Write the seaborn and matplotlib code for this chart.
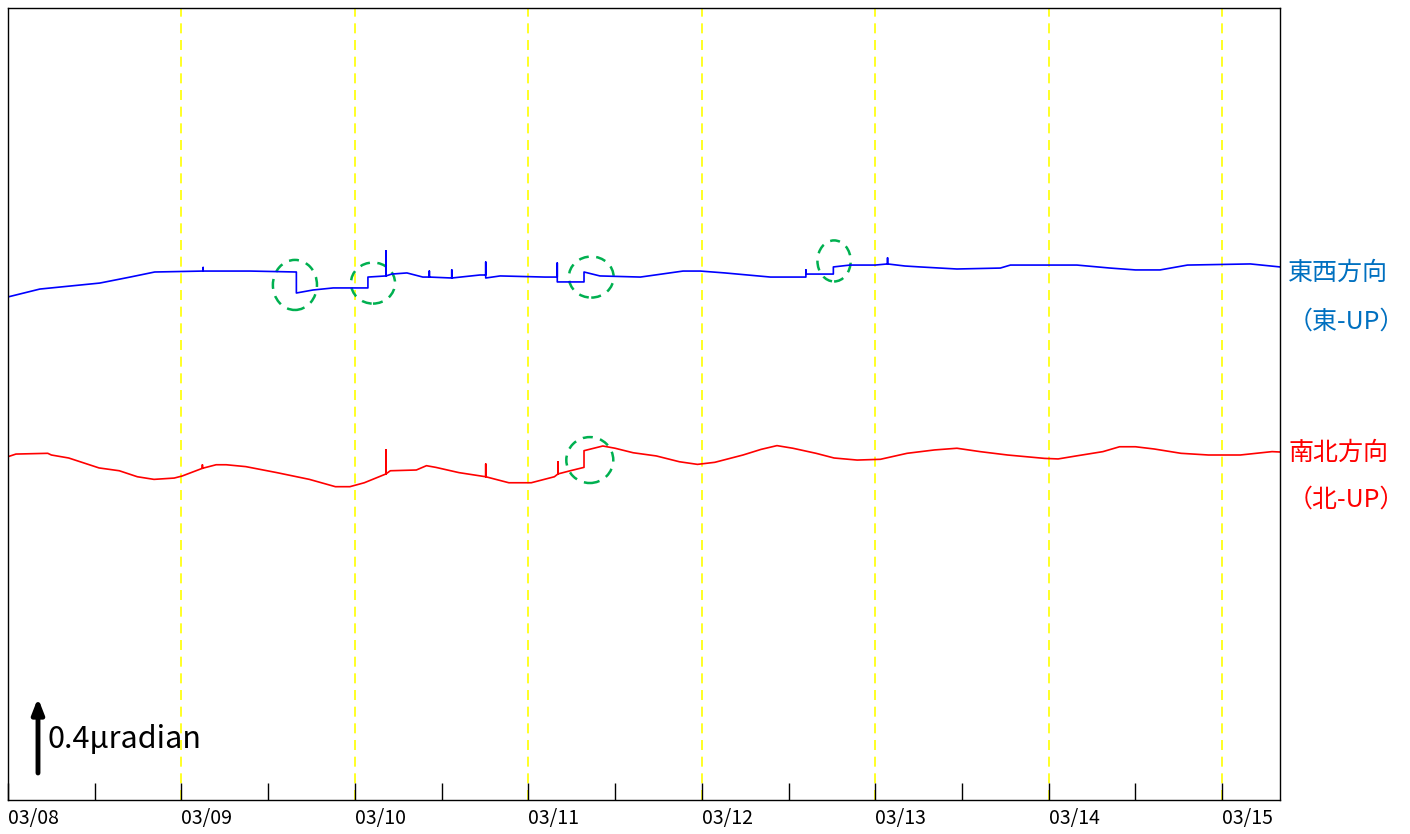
import matplotlib
matplotlib.use("Agg")
import matplotlib.pyplot as plt
import numpy as np
import pandas as pd
import seaborn as sns
from matplotlib.patches import Ellipse

# hours since 03/08 00:00 and tilt in micro-radian (arbitrary zero)
ew_hours = [0, 4.4, 12.7, 16.9, 20.3, 27.0, 27.0, 27.0, 33.5, 39.9, 39.9, 42.2, 45.0,
            49.8, 49.8, 52.3, 52.3, 52.3, 53.1, 55.2, 57.4, 58.3, 58.3, 58.3, 61.4,
            61.4, 61.4, 65.3, 66.1, 66.1, 66.1, 68.1, 74.3, 76.0, 76.0, 76.0, 79.7,
            79.7, 81.9, 87.5, 93.4, 95.8, 99.2, 105.5, 110.4, 110.4, 110.4, 114.2,
            114.2, 116.5, 120.0, 121.7, 121.7, 121.7, 124.1, 126.2, 131.3, 137.3,
            138.7, 147.9, 152.5, 156.0, 159.4, 163.2, 171.9, 176.0]
ew_urad = [2.683, 2.725, 2.757, 2.789, 2.816, 2.821, 2.840, 2.821, 2.821, 2.816, 2.704,
           2.720, 2.731, 2.731, 2.789, 2.795, 2.928, 2.795, 2.805, 2.811, 2.789, 2.789,
           2.821, 2.789, 2.784, 2.827, 2.784, 2.800, 2.800, 2.869, 2.784, 2.795, 2.789,
           2.789, 2.864, 2.763, 2.763, 2.816, 2.795, 2.789, 2.821, 2.821, 2.811, 2.789,
           2.789, 2.827, 2.805, 2.805, 2.843, 2.853, 2.853, 2.859, 2.891, 2.859, 2.848,
           2.843, 2.832, 2.837, 2.853, 2.853, 2.837, 2.827, 2.827, 2.853, 2.859, 2.843]

ns_hours = [0, 1.1, 5.5, 6.0, 8.4, 12.6, 15.4, 17.9, 20.2, 23.0, 24.1, 26.9, 26.9, 26.9,
            28.8, 30.2, 32.9, 37.2, 41.7, 45.3, 47.3, 49.3, 52.3, 52.3, 52.3, 52.9,
            56.5, 57.9, 59.2, 62.4, 66.1, 66.1, 66.1, 69.3, 72.4, 75.6, 76.1, 76.1,
            76.1, 77.8, 79.7, 79.7, 82.3, 84.0, 86.5, 89.7, 92.9, 95.4, 97.8, 101.7,
            104.2, 106.4, 108.6, 111.8, 114.3, 117.5, 120.7, 124.4, 128.2, 131.3,
            134.5, 138.3, 143.4, 145.3, 147.8, 151.5, 153.8, 156.0, 158.6, 162.3,
            166.1, 170.5, 174.9, 176.0]
ns_urad = [1.831, 1.845, 1.849, 1.840, 1.824, 1.771, 1.756, 1.724, 1.710, 1.717, 1.728,
           1.769, 1.787, 1.769, 1.788, 1.788, 1.778, 1.746, 1.710, 1.671, 1.671, 1.692,
           1.739, 1.867, 1.739, 1.756, 1.760, 1.783, 1.774, 1.746, 1.724, 1.792, 1.724,
           1.692, 1.692, 1.724, 1.739, 1.803, 1.739, 1.756, 1.774, 1.863, 1.888, 1.876,
           1.852, 1.835, 1.804, 1.790, 1.801, 1.840, 1.870, 1.890, 1.876, 1.849, 1.824,
           1.813, 1.817, 1.849, 1.867, 1.876, 1.858, 1.840, 1.822, 1.819, 1.835, 1.858,
           1.884, 1.884, 1.872, 1.849, 1.840, 1.840, 1.858, 1.856]

# events marked with green dashed circles: centre (h, urad), size (h, urad)
event_hours = [39.7, 50.5, 80.7, 114.3, 80.5]
event_urad = [2.747, 2.757, 2.789, 2.875, 1.813]
event_w = [6.1, 6.1, 6.2, 4.6, 6.5]
event_h = [0.267, 0.219, 0.219, 0.219, 0.245]

day_labels = ["03/08", "03/09", "03/10", "03/11", "03/12", "03/13", "03/14", "03/15"]
scale_urad = 0.4

sns.set_style("white")
plt.rcParams["font.family"] = ["Noto Sans CJK JP", "DejaVu Sans"]

fig = plt.figure(figsize=(14.1, 8.34), dpi=100)
ax = fig.add_axes([8 / 1410, 34 / 834, 1272 / 1410, 792 / 834])

ew = pd.DataFrame({"hour": ew_hours, "urad": ew_urad})
ns = pd.DataFrame({"hour": ns_hours, "urad": ns_urad})
sns.lineplot(data=ew, x="hour", y="urad", ax=ax, color="#0000FF", lw=1.2,
             estimator=None, sort=False)
sns.lineplot(data=ns, x="hour", y="urad", ax=ax, color="#FF0000", lw=1.2,
             estimator=None, sort=False)

for cx, cy, w, h in zip(event_hours, event_urad, event_w, event_h):
    ax.add_patch(Ellipse((cx, cy), w, h, fill=False, ec="#00B050", lw=1.8,
                         ls=(0, (4, 3))))

ax.set_xticks(np.arange(len(day_labels)) * 24)
ax.set_xticklabels(day_labels, ha="left")
ax.set_xticks(np.arange(len(day_labels)) * 24 + 12, minor=True)
# limits after the ticks, set_xticks widens the view otherwise
ax.set_xlim(0, 176.0)
ax.set_ylim(0, 4.224)
ax.tick_params(axis="x", which="both", direction="in", length=12, width=1,
               color="black", labelsize=14, labelcolor="black", pad=6,
               bottom=True)
ax.set_yticks([])
ax.set_xlabel("")
ax.set_ylabel("")
ax.grid(axis="x", which="major", color="#FFFF00", ls=(0, (6, 4)), lw=1.2)
for s in ax.spines.values():
    s.set_color("black")
    s.set_linewidth(1.0)

# scale arrow
ax.annotate("", xy=(4.15, 0.144 + scale_urad), xytext=(4.15, 0.144),
            arrowprops=dict(arrowstyle="-|>,head_length=0.9,head_width=0.35",
                            color="black", lw=3.5, shrinkA=0, shrinkB=0))
ax.text(5.4, 0.32, f"{scale_urad}μradian", fontsize=22, color="black",
        ha="left", va="center")

fig.text(1288 / 1410, 1 - 273 / 834, "東西方向", color="#0070C0", fontsize=18,
         ha="left", va="center")
fig.text(1288 / 1410, 1 - 322 / 834, "（東-UP）", color="#0070C0", fontsize=18,
         ha="left", va="center")
fig.text(1288 / 1410, 1 - 453 / 834, "南北方向", color="#FF0000", fontsize=18,
         ha="left", va="center")
fig.text(1288 / 1410, 1 - 500 / 834, "（北-UP）", color="#FF0000", fontsize=18,
         ha="left", va="center")

fig.savefig("out.png", dpi=100)
